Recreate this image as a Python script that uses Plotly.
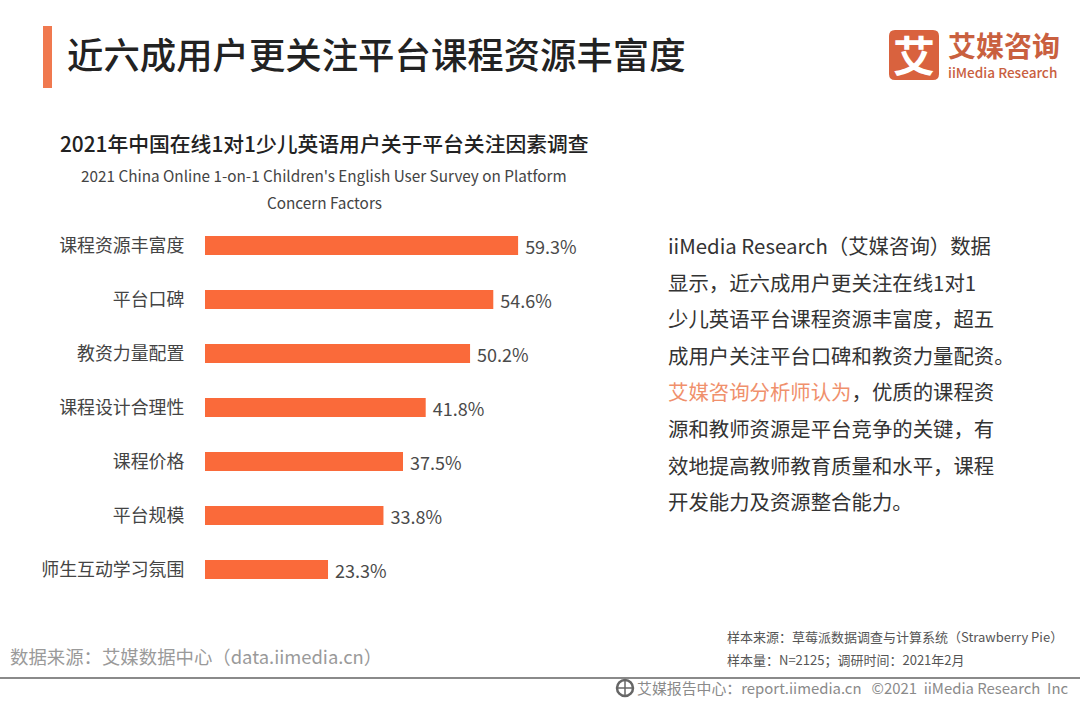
import plotly.graph_objects as go

categories = ["课程资源丰富度", "平台口碑", "教资力量配置", "课程设计合理性", "课程价格", "平台规模", "师生互动学习氛围"]
shares = [59.3, 54.6, 50.2, 41.8, 37.5, 33.8, 23.3]

page_title = "近六成用户更关注平台课程资源丰富度"
chart_title_cn = "2021年中国在线1对1少儿英语用户关于平台关注因素调查"
chart_title_en = ["2021 China Online 1-on-1 Children's English User Survey on Platform", "Concern Factors"]
commentary = [
    "iiMedia Research（艾媒咨询）数据",
    "显示，近六成用户更关注在线1对1",
    "少儿英语平台课程资源丰富度，超五",
    "成用户关注平台口碑和教资力量配资。",
    "<span style='color:#F0906C'>艾媒咨询分析师认为</span>，优质的课程资",
    "源和教师资源是平台竞争的关键，有",
    "效地提高教师教育质量和水平，课程",
    "开发能力及资源整合能力。",
]

W, H = 1080, 702
CJK = "Noto Sans CJK SC"
ORANGE = "#FA6A3A"
LOGO = "#D9623E"

fig = go.Figure(go.Bar(
    x=shares,
    y=categories,
    orientation="h",
    marker=dict(color=ORANGE, line=dict(width=0)),
    width=0.35,
    text=[f"\u00a0{v}%" for v in shares],
    textposition="outside",
    constraintext="none",
    cliponaxis=False,
    textfont=dict(family=CJK, size=18, color="#4a4a4a"),
    hoverinfo="skip",
))


def px(x):
    return x / W


def py(y):
    return 1 - y / H


def label(x, y, text, size, color="#333333", anchor="left", weight=400, font=CJK):
    fig.add_annotation(x=px(x), y=py(y), xref="paper", yref="paper", text=text, showarrow=False,
                       xanchor=anchor, yanchor="middle", align=anchor,
                       font=dict(family=font, size=size, color=color, weight=weight))


def rounded_square(x0, y0, x1, y1, r):
    # Rounded rectangle path in paper coordinates
    return (f"M {px(x0 + r)} {py(y0)} L {px(x1 - r)} {py(y0)} Q {px(x1)} {py(y0)} {px(x1)} {py(y0 + r)} "
            f"L {px(x1)} {py(y1 - r)} Q {px(x1)} {py(y1)} {px(x1 - r)} {py(y1)} "
            f"L {px(x0 + r)} {py(y1)} Q {px(x0)} {py(y1)} {px(x0)} {py(y1 - r)} "
            f"L {px(x0)} {py(y0 + r)} Q {px(x0)} {py(y0)} {px(x0 + r)} {py(y0)} Z")


# Header accent, footer rule, logo tile and the small globe beside the footer link
shapes = [
    dict(type="rect", x0=px(43), x1=px(52), y0=py(88), y1=py(26), fillcolor="#F0794F"),
    dict(type="line", x0=0, x1=1, y0=py(678), y1=py(678), line=dict(color="#8a8a8a", width=2)),
    dict(type="path", path=rounded_square(889, 30, 939, 80, 6), fillcolor=LOGO),
    dict(type="circle", x0=px(617), x1=px(633), y0=py(696), y1=py(680), fillcolor="#ffffff",
         line=dict(color="#666666", width=2.5)),
    dict(type="line", x0=px(625), x1=px(625), y0=py(696), y1=py(680), line=dict(color="#666666", width=1.5)),
    dict(type="line", x0=px(617), x1=px(633), y0=py(688), y1=py(688), line=dict(color="#666666", width=1.5)),
]
for s in shapes:
    s.setdefault("line", dict(width=0))
    s.update(xref="paper", yref="paper", layer="below")
    fig.add_shape(s)

label(65, 53.5, page_title, 36.4, "#222222", weight=500)
label(58, 143, chart_title_cn, 20.8, "#222222", weight=500)
label(324, 175, chart_title_en[0], 15.3, "#444444", anchor="center")
label(324, 202, chart_title_en[1], 15.3, "#444444", anchor="center")

for i, line in enumerate(commentary):
    label(666, 245 + i * 36.6, line, 20.4, "#333333")

# Logo: tile glyph, then the wordmark and its English line as one two-line text
label(914, 54, "艾", 42, "#ffffff", anchor="center", weight=700)
label(946, 54,
      "<span style='font-size:28px;font-weight:700'>艾媒咨询</span><br>"
      "<span style='font-size:13.6px;font-weight:500'>iiMedia Research</span>",
      16, "#C9603F")

# Footer
label(8, 656, "数据来源：艾媒数据中心（data.iimedia.cn）", 18.4, "#9a9a9a")
label(725, 636, "样本来源：草莓派数据调查与计算系统（Strawberry Pie）", 13, "#555555")
label(725, 659, "样本量：N=2125；调研时间：2021年2月", 13, "#555555")
label(1071, 687.5, "艾媒报告中心：report.iimedia.cn   ©2021  iiMedia Research  Inc", 14.9, "#8a8a8a", anchor="right")

fig.update_layout(
    width=W, height=H,
    margin=dict(l=0, r=0, t=0, b=0),
    paper_bgcolor="#ffffff",
    plot_bgcolor="#ffffff",
    showlegend=False,
    xaxis=dict(domain=[px(205), px(733)], range=[0, 100], visible=False),
    yaxis=dict(
        domain=[py(596.5), py(218.5)],
        autorange="reversed",
        showgrid=False, showline=False, zeroline=False,
        ticks="outside", ticklen=16, tickcolor="rgba(0,0,0,0)",
        tickfont=dict(family=CJK, size=17.9, color="#444444"),
    ),
)

fig.write_html("out.html", config=dict(displayModeBar=False))
